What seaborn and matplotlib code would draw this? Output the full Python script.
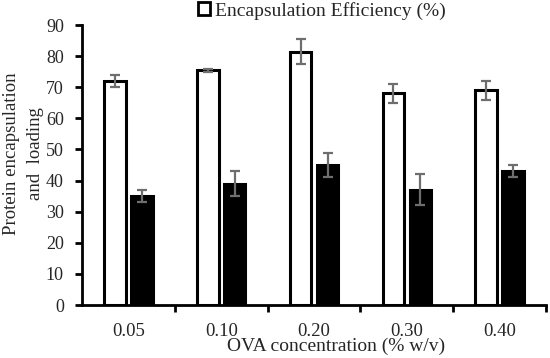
import pandas as pd
import matplotlib.pyplot as plt
import seaborn as sns
from matplotlib.patches import Patch

# values
concentrations = ["0.05", "0.10", "0.20", "0.30", "0.40"]
efficiency = [72.0, 75.5, 81.5, 68.0, 69.0]
efficiency_err = [2.0, 0.5, 4.0, 3.0, 3.0]
loading = [35.0, 39.0, 45.0, 37.0, 43.0]
loading_err = [2.0, 4.0, 4.0, 5.0, 2.0]

series = ["Encapsulation Efficiency (%)", "Loading (%)"]

df = pd.DataFrame({
    "conc": concentrations * 2,
    "value": efficiency + loading,
    "series": [series[0]] * 5 + [series[1]] * 5,
})

sns.set_style("white")
plt.rcParams["font.family"] = ["Liberation Serif", "DejaVu Serif"]

fig = plt.figure(figsize=(5.5, 3.58), dpi=100)
ax = fig.add_axes([0.149, 0.148, 0.844, 0.782])

sns.barplot(data=df, x="conc", y="value", hue="series", order=concentrations,
            hue_order=series, palette=["white", "black"], width=0.58, gap=0.2,
            edgecolor="black", linewidth=2.2, legend=False, ax=ax)

# error bars on top of each bar, positions taken from the drawn patches
errs = efficiency_err + loading_err
vals = efficiency + loading
for patch, v, e in zip(ax.patches, vals, errs):
    xc = patch.get_x() + patch.get_width() / 2
    ax.errorbar(xc, v, yerr=e, fmt="none", ecolor="#6e6e6e", elinewidth=1.6,
                capsize=3.5, capthick=1.6, zorder=5)

ax.set_ylim(0, 90)
ax.set_yticks(range(0, 91, 10))
ax.set_xlim(-0.5, 4.5)
ax.set_xticks([0.5, 1.5, 2.5, 3.5, 4.5])
ax.set_xticklabels([])
ax.set_xticks(range(5), minor=True)
ax.set_xticklabels(concentrations, minor=True)
ax.tick_params(axis="x", which="major", direction="out", length=5, width=2, color="black")
ax.tick_params(axis="x", which="minor", length=0, labelsize=13.5, pad=13)
ax.tick_params(axis="y", direction="out", length=5, width=2, color="black", labelsize=13, pad=8)
ax.yaxis.set_ticks_position("left")
ax.xaxis.set_ticks_position("bottom")

sns.despine(ax=ax)
for s in ["left", "bottom"]:
    ax.spines[s].set_linewidth(2)
    ax.spines[s].set_color("black")

ax.set_xlabel("OVA concentration (% w/v)", fontsize=14)
ax.xaxis.set_label_coords(0.547, -0.118)
ax.set_ylabel("Protein encapsulation\nand  loading", fontsize=13.5,
              linespacing=1.55)
ax.yaxis.set_label_coords(-0.082, 0.54)

ax.legend(handles=[Patch(facecolor="white", edgecolor="black", linewidth=2)],
          labels=[series[0]], loc="lower center", bbox_to_anchor=(0.517, 0.985),
          frameon=False, fontsize=14, handlelength=0.6, handleheight=0.6,
          handletextpad=0.25, borderpad=0)

fig.savefig("out.png", dpi=100)
